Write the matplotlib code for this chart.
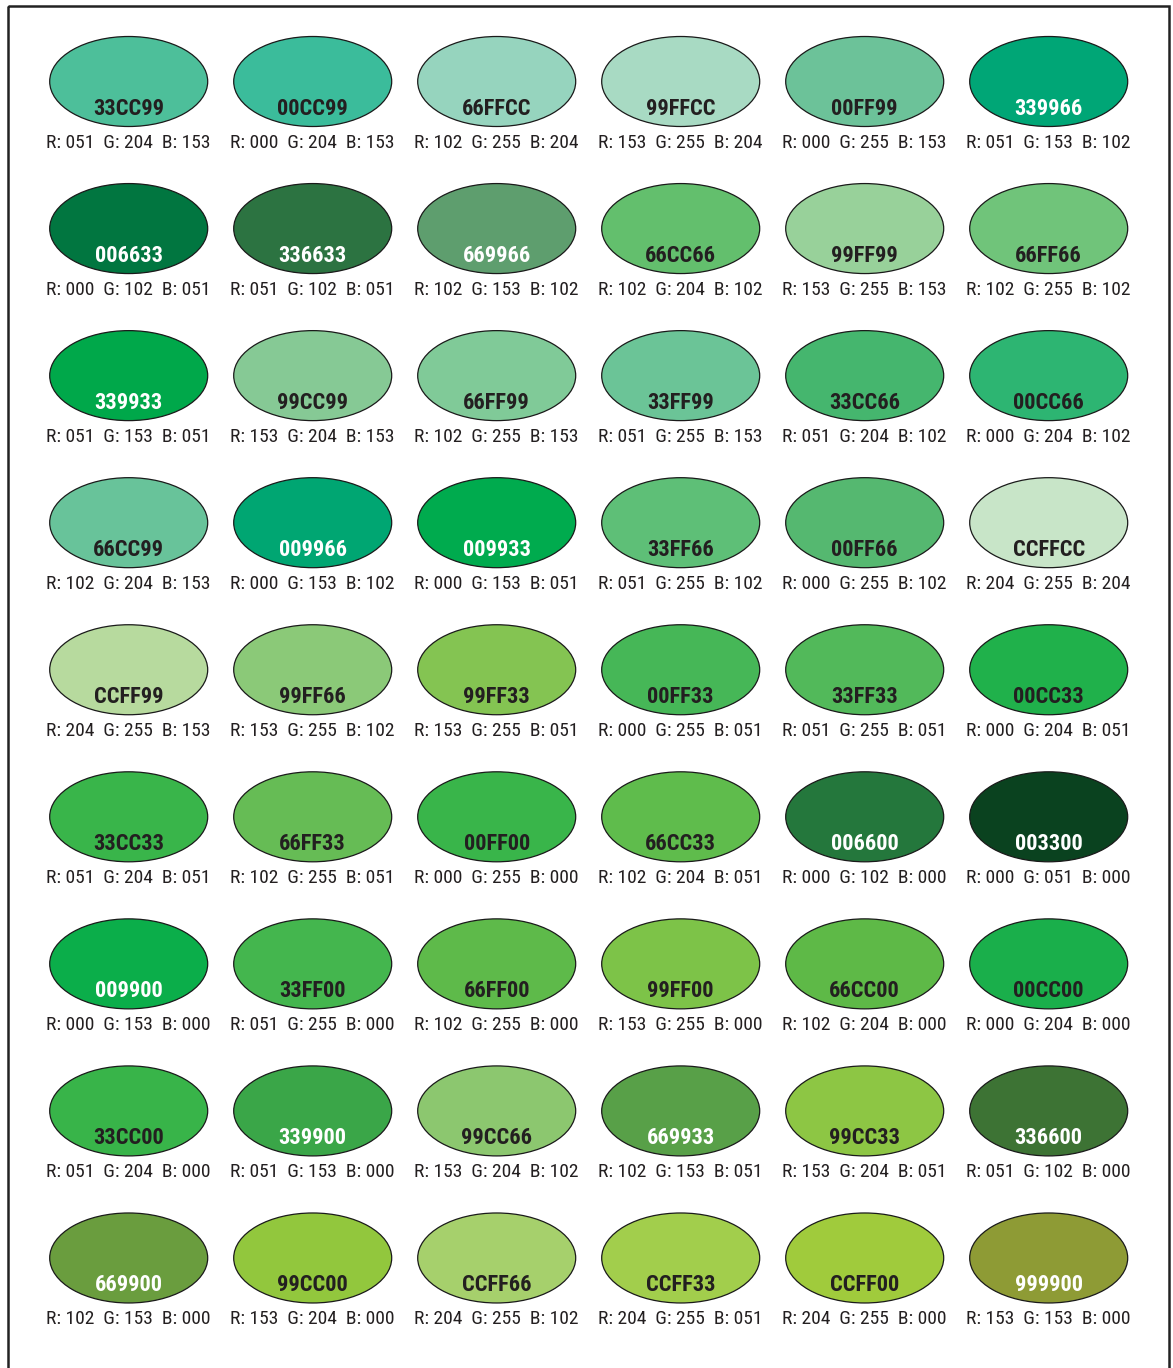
import matplotlib
matplotlib.use("Agg")
import matplotlib.pyplot as plt
from matplotlib.patches import Ellipse, Rectangle
from matplotlib import font_manager as fm

# ---- data ----
hex_codes = [
    "33CC99", "00CC99", "66FFCC", "99FFCC", "00FF99", "339966",
    "006633", "336633", "669966", "66CC66", "99FF99", "66FF66",
    "339933", "99CC99", "66FF99", "33FF99", "33CC66", "00CC66",
    "66CC99", "009966", "009933", "33FF66", "00FF66", "CCFFCC",
    "CCFF99", "99FF66", "99FF33", "00FF33", "33FF33", "00CC33",
    "33CC33", "66FF33", "00FF00", "66CC33", "006600", "003300",
    "009900", "33FF00", "66FF00", "99FF00", "66CC00", "00CC00",
    "33CC00", "339900", "99CC66", "669933", "99CC33", "336600",
    "669900", "99CC00", "CCFF66", "CCFF33", "CCFF00", "999900",
]
# printed swatch colours as they appear in the picture
swatch_colors = [
    "#4DBF9A", "#3BBC9B", "#96D4BE", "#A8DAC3", "#6CC299", "#00A676",
    "#017640", "#2C7341", "#5E9E6E", "#63BF6D", "#98D19A", "#70C47A",
    "#00A84A", "#86C995", "#80CA98", "#6BC497", "#45B66E", "#2DB572",
    "#68C39A", "#00A672", "#00AB4E", "#5EBF77", "#55B870", "#C8E5C8",
    "#B7DA9E", "#8BC978", "#84C452", "#46B757", "#52B95A", "#20B14B",
    "#39B54A", "#66BC55", "#39B54A", "#5FBC4C", "#24773C", "#0A421F",
    "#0BAE4A", "#44B64E", "#5EBA4A", "#7DC348", "#5EB947", "#1AAF4B",
    "#38B449", "#3AA648", "#8CC76F", "#58A048", "#8DC644", "#3D7334",
    "#6A9D3E", "#92C73D", "#A6D06C", "#A2CE4C", "#A0CB3C", "#8E9B35",
]
white_label = {"339966", "006633", "336633", "669966", "339933", "009966",
               "009933", "006600", "003300", "009900", "339900", "669933",
               "336600", "669900", "999900"}

ncols = 6


# ---- pick a condensed sans font if one is installed ----
def pick_font(bold):
    best, best_score = None, -1
    for e in fm.fontManager.ttflist:
        name = e.name.lower()
        path = e.fname.lower()
        stretch = str(e.stretch).lower()
        is_cond = ("condensed" in name or "narrow" in name or "condensed" in path
                   or "narrow" in path or "condensed" in stretch)
        if not is_cond:
            continue
        if "extra" in name or "ultra" in name or "semi" in name or \
           "extra" in path or "ultra" in path or "semi" in path:
            cscore = 1
        else:
            cscore = 3
        try:
            w = int(e.weight)
        except Exception:
            w = {"bold": 700, "normal": 400, "regular": 400}.get(str(e.weight).lower(), 400)
        if e.style != "normal":
            continue
        if bold:
            wscore = 3 if w == 700 else (2 if w >= 600 else 0)
        else:
            wscore = 3 if w == 400 else (1 if w < 600 else 0)
        fam_score = 0
        for k, pref in enumerate(["helvetica", "roboto", "liberation", "arial",
                                  "open sans", "noto sans", "dejavu"]):
            if pref in name:
                fam_score = 7 - k
                break
        if "mono" in name or "serif" in name.replace("sans", ""):
            fam_score -= 5
        score = cscore * 100 + wscore * 20 + fam_score
        if score > best_score:
            best, best_score = e, score
    if best is None or best_score < 100 + 40:
        fallback = "Liberation Sans" if any(
            f.name == "Liberation Sans" for f in fm.fontManager.ttflist) else "DejaVu Sans"
        return fm.FontProperties(family=fallback,
                                 weight="bold" if bold else "normal")
    return fm.FontProperties(fname=best.fname)


fp_bold = pick_font(True)
fp_reg = pick_font(False)

fig = plt.figure(figsize=(11.73, 13.68), dpi=100)
ax = fig.add_axes([0, 0, 1, 1])
ax.set_xlim(0, 1173)
ax.set_ylim(1368, 0)
ax.axis("off")

renderer = fig.canvas.get_renderer()


def fit_size(text, fp, target_w, max_size):
    t = ax.text(0, 0, text, fontproperties=fp, fontsize=10)
    w = t.get_window_extent(renderer).width
    t.remove()
    return min(max_size, 10 * target_w / w)


size_hex = fit_size("33CC99", fp_bold, 71, 18.5)
size_rgb = fit_size("R: 051  G: 204  B: 153", fp_reg, 166, 14)

# frame
ax.add_patch(Rectangle((7.5, 5.5), 1161, 1400, fill=False, edgecolor="#222222",
                       linewidth=1.8, clip_on=True))

for i, code in enumerate(hex_codes):
    r_i, c_i = divmod(i, ncols)
    cx = 128.7 + c_i * 184
    cy = 81.5 + r_i * 147.06
    ax.add_patch(Ellipse((cx, cy), 158, 90, facecolor=swatch_colors[i],
                         edgecolor="#1a1a1a", linewidth=0.9))
    ax.text(cx, cy + 33.5, code, ha="center", va="baseline",
            fontproperties=fp_bold, fontsize=size_hex,
            color="white" if code in white_label else "#231f20")
    rv, gv, bv = int(code[0:2], 16), int(code[2:4], 16), int(code[4:6], 16)
    ax.text(cx, cy + 66, f"R: {rv:03d}  G: {gv:03d}  B: {bv:03d}",
            ha="center", va="baseline", fontproperties=fp_reg,
            fontsize=size_rgb, color="#231f20")

fig.savefig("out.png", dpi=100, facecolor="white")
